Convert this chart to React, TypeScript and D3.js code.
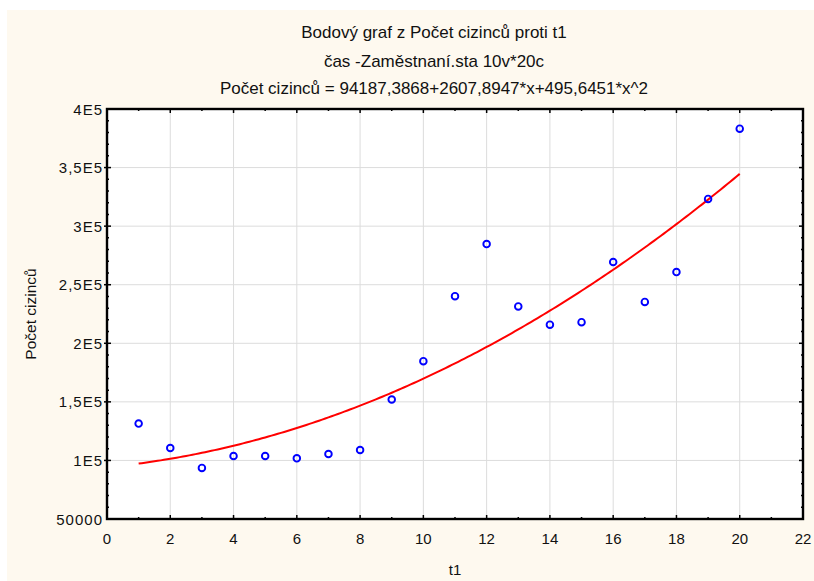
import React from "react";
import { scaleLinear, line, range } from "d3";

// data
const tValues = [1, 2, 3, 4, 5, 6, 7, 8, 9, 10, 11, 12, 13, 14, 15, 16, 17, 18, 19, 20];
const cizinci = [
  131500, 110600, 93600, 103800, 103800, 101800, 105500, 108900, 152000, 184700,
  240200, 284700, 231500, 215900, 218000, 269400, 235300, 260800, 323200, 383200
];
const fitCoef = [94187.3868, 2607.8947, 495.6451];
const xTicks = [0, 2, 4, 6, 8, 10, 12, 14, 16, 18, 20, 22];
const yTicks = [50000, 100000, 150000, 200000, 250000, 300000, 350000, 400000];
const yTickLabels = ["50000", "1E5", "1,5E5", "2E5", "2,5E5", "3E5", "3,5E5", "4E5"];
const titleLines = [
  "Bodový graf z Počet cizinců proti t1",
  "čas -Zaměstnaní.sta 10v*20c",
  "Počet cizinců = 94187,3868+2607,8947*x+495,6451*x^2"
];

const W = 814;
const H = 581;
const LEFT = 107;
const RIGHT = 803;
const TOP = 109;
const BOTTOM = 519;
const FONT = "'Liberation Sans', Arial, sans-serif";

export default function App() {
  const x = scaleLinear().domain([0, 22]).range([LEFT, RIGHT]);
  const y = scaleLinear().domain([50000, 400000]).range([BOTTOM, TOP]);

  const fit = (t: number) => fitCoef[0] + fitCoef[1] * t + fitCoef[2] * t * t;
  const fitLine = line<number>()
    .x(t => x(t))
    .y(t => y(fit(t)));
  const fitPts = range(1, 20.001, 0.1);

  const xMinor = range(1, 22, 2);
  const yMinor = range(50000, 400001, 10000).filter(v => v % 50000 !== 0);

  return (
    <svg
      width={W}
      height={H}
      style={{ position: "absolute", left: 0, top: 0 }}
      fontFamily={FONT}
    >
      <rect x={0} y={0} width={W} height={H} fill="#fff" />
      <rect x={7} y={10} width={W - 7} height={H - 10} fill="#fef9ef" />
      <rect x={LEFT} y={TOP} width={RIGHT - LEFT} height={BOTTOM - TOP} fill="#fff" />

      {/* title */}
      {titleLines.map((t, i) => (
        <text
          key={i}
          x={434}
          y={[38, 67, 94][i]}
          textAnchor="middle"
          fontSize={17}
          fill="#111"
        >
          {t}
        </text>
      ))}

      {/* grid */}
      <g stroke="#dcdcdc" strokeWidth={1}>
        {xTicks.slice(1, -1).map(v => (
          <line key={v} x1={x(v)} x2={x(v)} y1={TOP} y2={BOTTOM} />
        ))}
        {yTicks.slice(1, -1).map(v => (
          <line key={v} x1={LEFT} x2={RIGHT} y1={y(v)} y2={y(v)} />
        ))}
      </g>

      {/* fit */}
      <path d={fitLine(fitPts)!} fill="none" stroke="#ff0000" strokeWidth={2} />

      {/* points */}
      {tValues.map((t, i) => (
        <circle
          key={t}
          cx={x(t)}
          cy={y(cizinci[i])}
          r={3.3}
          fill="none"
          stroke="#0000ff"
          strokeWidth={1.9}
        />
      ))}

      {/* ticks */}
      <g stroke="#000" strokeWidth={1.5}>
        {xTicks.slice(1, -1).map(v => (
          <g key={v}>
            <line x1={x(v)} x2={x(v)} y1={BOTTOM} y2={BOTTOM - 4} />
            <line x1={x(v)} x2={x(v)} y1={TOP} y2={TOP + 4} />
          </g>
        ))}
        {xMinor.map(v => (
          <g key={v}>
            <line x1={x(v)} x2={x(v)} y1={BOTTOM} y2={BOTTOM - 2} />
            <line x1={x(v)} x2={x(v)} y1={TOP} y2={TOP + 2} />
          </g>
        ))}
        {yTicks.slice(1, -1).map(v => (
          <g key={v}>
            <line x1={LEFT - 3} x2={LEFT + 4} y1={y(v)} y2={y(v)} />
            <line x1={RIGHT} x2={RIGHT - 4} y1={y(v)} y2={y(v)} />
          </g>
        ))}
        {yMinor.map(v => (
          <g key={v}>
            <line x1={LEFT} x2={LEFT + 2} y1={y(v)} y2={y(v)} />
            <line x1={RIGHT} x2={RIGHT - 2} y1={y(v)} y2={y(v)} />
          </g>
        ))}
      </g>

      {/* frame */}
      <rect
        x={LEFT}
        y={TOP}
        width={RIGHT - LEFT}
        height={BOTTOM - TOP}
        fill="none"
        stroke="#000"
        strokeWidth={2.4}
      />

      {/* tick labels */}
      {xTicks.map(v => (
        <text key={v} x={x(v)} y={543.5} textAnchor="middle" fontSize={15} fill="#111">
          {v}
        </text>
      ))}
      {yTicks.map((v, i) => (
        <text
          key={v}
          x={103}
          y={y(v) + 5.5}
          textAnchor="end"
          fontSize={15}
          letterSpacing={1}
          fill="#111"
        >
          {yTickLabels[i]}
        </text>
      ))}

      {/* axis titles */}
      <text x={455} y={575} textAnchor="middle" fontSize={15} fill="#111">
        t1
      </text>
      <text
        transform={`translate(36, ${314}) rotate(-90)`}
        textAnchor="middle"
        fontSize={15.5}
        fill="#111"
      >
        Počet cizinců
      </text>
    </svg>
  );
}
